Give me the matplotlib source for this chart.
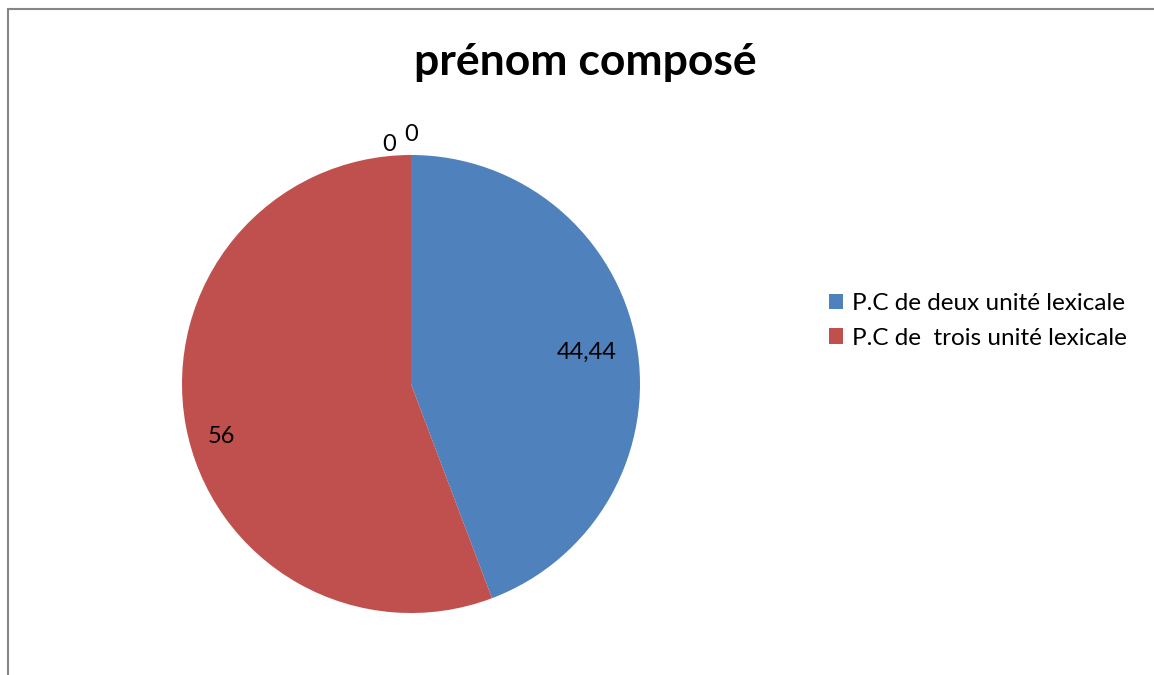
import numpy as np
import matplotlib.pyplot as plt
from matplotlib.patches import Rectangle, Patch

plt.rcParams['font.family'] = ['Lato', 'DejaVu Sans']

# Slice data
categories = ['P.C de deux unité lexicale', 'P.C de  trois unité lexicale', '', '']
values = [44.44, 56, 0, 0]
value_labels = ['44,44', '56', '0', '0']
colors = ['#4F81BD', '#C0504D', '#9BBB59', '#8064A2']

fig = plt.figure(figsize=(11.54, 6.75), dpi=100)

# outer chart frame (runs off the right and bottom edges)
fig.patches.append(Rectangle((7.5 / 1154, -0.05), 1.2, 1 - 8.5 / 675 + 0.05,
                             transform=fig.transFigure, fill=False,
                             edgecolor='#868686', linewidth=1.5))

# pie centred at (411, 384) px with radius 229 px
cx, cy, rad = 411, 384, 229
ax = fig.add_axes([(cx - rad) / 1154, 1 - (cy + rad) / 675, 2 * rad / 1154, 2 * rad / 675])
wedges, _ = ax.pie(values, colors=colors, startangle=90, counterclock=False,
                   radius=1.0, wedgeprops=dict(linewidth=0))
ax.set_xlim(-1, 1)
ax.set_ylim(-1, 1)
ax.set_aspect('equal')

# data labels
inner_pos = {0: 0.78, 1: 0.84}
zero_offsets = {2: (-0.095, 1.045), 3: (0.0, 1.09)}
for i, w in enumerate(wedges):
    if values[i] > 0:
        mid = np.deg2rad((w.theta1 + w.theta2) / 2)
        r = inner_pos[i]
        x, y = r * np.cos(mid), r * np.sin(mid)
        if i == 1:
            y -= 0.08
        ax.text(x, y, value_labels[i], ha='center', va='center', fontsize=17)
    else:
        x, y = zero_offsets[i]
        ax.text(x, y, value_labels[i], ha='center', va='center', fontsize=17,
                clip_on=False)

fig.text(585 / 1154, 1 - 62 / 675, 'prénom composé', ha='center', va='center',
         fontsize=32, fontweight='bold')

handles = [Patch(facecolor=colors[i], edgecolor='none') for i in range(2)]
fig.legend(handles, categories[:2], loc='center left',
           bbox_to_anchor=(807 / 1154, 1 - 321 / 675), frameon=False,
           fontsize=17.5, handlelength=0.6, handleheight=0.6, handletextpad=0.35,
           labelspacing=0.55)

fig.savefig('out.png', dpi=100, facecolor='white')
